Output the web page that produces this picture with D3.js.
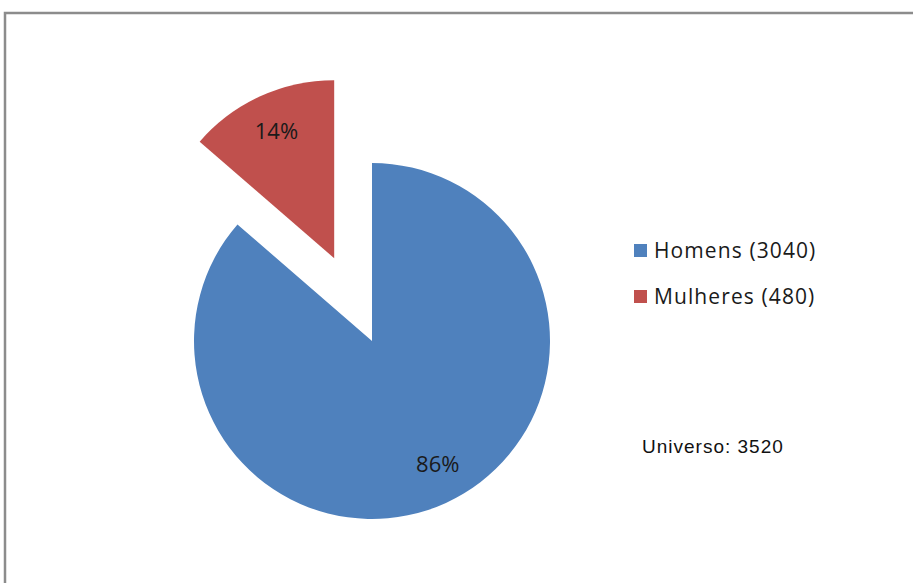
<!DOCTYPE html>
<html>
<head>
<meta charset="utf-8">
<script src="https://cdn.jsdelivr.net/npm/d3@7"></script>
<style>
  html, body { margin: 0; padding: 0; background: #fff; }
  svg { display: block; }
</style>
</head>
<body>
<svg id="chart" width="913" height="583"></svg>
<script>
// Gender split of the surveyed population
const categories = ["Homens", "Mulheres"];
const values = [3040, 480];
const percentLabels = ["86%", "14%"];
const colors = ["#4F81BD", "#C0504D"];
const totalLabel = "Universo: 3520";

const svg = d3.select("#chart");
const W = 913, H = 583;

// outer frame
svg.append("path")
  .attr("d", `M5,${H} L5,13 L${W},13`)
  .attr("fill", "none")
  .attr("stroke", "#8c8c8c")
  .attr("stroke-width", 2.5);

const cx = 372, cy = 341, R = 178;
const explode = [0, 91];
const labelR = 139;
const labelShift = [[8, -3], [0, 0]];

const pie = d3.pie().sort(null).value(d => d)(values);
const arc = d3.arc().innerRadius(0).outerRadius(R);
const labelArc = d3.arc().innerRadius(labelR).outerRadius(labelR);

const g = svg.append("g").attr("transform", `translate(${cx},${cy})`);

const slices = g.selectAll("g.slice").data(pie).enter().append("g")
  .attr("class", "slice")
  .attr("transform", (d, i) => {
    const a = (d.startAngle + d.endAngle) / 2;
    return `translate(${Math.sin(a) * explode[i]},${-Math.cos(a) * explode[i]})`;
  });

slices.append("path")
  .attr("d", arc)
  .attr("fill", (d, i) => colors[i]);

slices.append("text")
  .attr("transform", (d, i) => {
    const [x, y] = labelArc.centroid(d);
    return `translate(${x + labelShift[i][0]},${y + labelShift[i][1]})`;
  })
  .attr("text-anchor", "middle")
  .attr("dy", "0.35em")
  .attr("font-family", "'Open Sans', sans-serif")
  .attr("font-size", 22)
  .attr("fill", "#1a1a1a")
  .text((d, i) => percentLabels[i]);

// legend
const legend = svg.append("g").attr("transform", "translate(634,251)");
const item = legend.selectAll("g").data(categories).enter().append("g")
  .attr("transform", (d, i) => `translate(0,${i * 46})`);
item.append("rect")
  .attr("x", 0).attr("y", -7).attr("width", 13).attr("height", 13)
  .attr("fill", (d, i) => colors[i]);
item.append("text")
  .attr("x", 20).attr("y", 0).attr("dy", "0.35em")
  .attr("font-family", "'Open Sans', sans-serif")
  .attr("font-size", 21)
  .attr("letter-spacing", 1.1)
  .attr("fill", "#1a1a1a")
  .text((d, i) => `${d} (${values[i]})`);

svg.append("text")
  .attr("x", 642).attr("y", 453)
  .attr("font-family", "'Liberation Sans', Arial, sans-serif")
  .attr("font-size", 19)
  .attr("letter-spacing", 1.0)
  .attr("fill", "#111")
  .text(totalLabel);
</script>
</body>
</html>
